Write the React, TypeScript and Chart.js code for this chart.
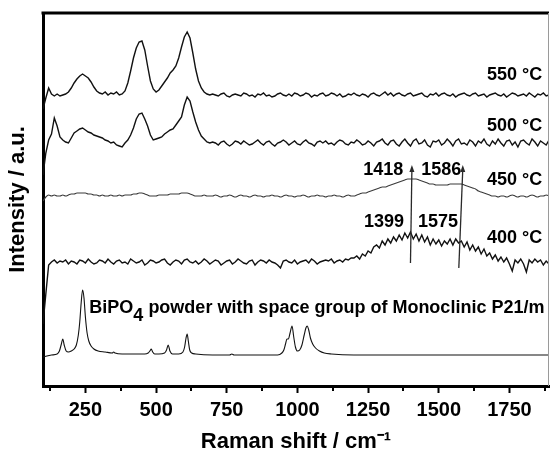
import React, { useEffect, useRef } from 'react';
import { Chart, registerables } from 'chart.js';

Chart.register(...registerables);

// Raman shift grid (cm-1) shared by the four annealed-sample spectra
const shift = [
  100, 110, 120, 130, 140, 150, 160, 170, 180, 190,
  200, 210, 220, 230, 240, 250, 260, 270, 280, 290,
  300, 310, 320, 330, 340, 350, 360, 370, 380, 390,
  400, 410, 420, 430, 440, 450, 460, 470, 480, 490,
  500, 510, 520, 530, 540, 550, 560, 570, 580, 590,
  600, 610, 620, 630, 640, 650, 660, 670, 680, 690,
  700, 710, 720, 730, 740, 750, 760, 770, 780, 790,
  800, 810, 820, 830, 840, 850, 860, 870, 880, 890,
  900, 910, 920, 930, 940, 950, 960, 970, 980, 990,
  1000, 1010, 1020, 1030, 1040, 1050, 1060, 1070, 1080, 1090,
  1100, 1110, 1120, 1130, 1140, 1150, 1160, 1170, 1180, 1190,
  1200, 1210, 1220, 1230, 1240, 1250, 1260, 1270, 1280, 1290,
  1300, 1310, 1320, 1330, 1340, 1350, 1360, 1370, 1380, 1390,
  1400, 1410, 1420, 1430, 1440, 1450, 1460, 1470, 1480, 1490,
  1500, 1510, 1520, 1530, 1540, 1550, 1560, 1570, 1580, 1590,
  1600, 1610, 1620, 1630, 1640, 1650, 1660, 1670, 1680, 1690,
  1700, 1710, 1720, 1730, 1740, 1750, 1760, 1770, 1780, 1790,
  1800, 1810, 1820, 1830, 1840, 1850, 1860, 1870, 1880, 1890,
];

// Relative intensities (a.u.) of each spectrum above its own baseline
const t550 = [
  -14, -3, 7, 1, -1, 1, -1, 0, 1, 3,
  7, 12, 16, 19, 21, 19, 17, 13, 8, 4,
  2, 1, 3, 0, 2, 1, 3, 0, 1, 4,
  12, 24, 37, 47, 53, 54, 45, 29, 14, 6,
  3, 5, 9, 13, 17, 22, 25, 29, 37, 48,
  58, 63, 57, 42, 26, 14, 7, 3, 1, 0,
  1, 0, -1, 1, 2, -1, -2, 0, 1, 0,
  -1, 2, 1, -1, 0, -2, 1, 0, 2, -1,
  0, -2, -1, 1, 2, 0, -1, 1, -1, 2,
  1, -1, 0, 2, 1, -2, 0, -1, 1, 2,
  -1, 0, 2, 1, -1, 1, -2, -1, 1, 0,
  2, 0, -1, 1, 0, -2, 1, 2, 0, -1,
  1, 3, 0, 2, -1, 1, 2, 0, -1, 1,
  2, -1, 0, 1, 2, -1, -2, 1, 0, 2,
  -1, 1, 2, 0, -1, 1, -2, 0, 1, 2,
  0, -1, 1, 2, -1, 0, 1, -2, 0, 1,
  2, 0, -1, 1, -2, 0, 2, 1, -1, 0,
  1, -1, 2, 0, -2, 1, 0, 2, -1, 0,
];

const t500 = [
  -32, -10, 3, 9, 25, 17, 6, 3, 1, 0,
  5, 10, 12, 14, 15, 13, 11, 10, 8, 7,
  6, 5, 3, 2, 0, 1, -2, -3, -4, 0,
  3, 8, 15, 24, 29, 30, 24, 17, 8, 3,
  4, 5, 6, 9, 11, 13, 14, 18, 22, 26,
  38, 46, 42, 31, 21, 13, 7, 4, 1, 0,
  1, 0, -2, 1, 2, -1, -3, -1, 2, 1,
  -1, 2, 0, -2, -1, 1, 3, 0, -2, 1,
  2, -1, -3, 0, 1, 3, 1, -2, 0, 2,
  -1, -2, 1, 3, 0, -1, -3, 1, 2, 0,
  2, -1, 0, -2, 1, 3, 2, -1, -2, 1,
  0, 3, 1, -2, -1, 2, 0, -3, 1, 2,
  4, 0, -2, 2, 3, -1, -3, 1, 4, 0,
  -3, 2, 4, -1, 0, 3, -2, -4, 2, 1,
  3, -2, 0, 4, 1, -3, 2, 4, -1, 0,
  -2, 3, 1, -3, 2, 0, 4, -1, -3, 2,
  -1, 4, 0, -3, 2, 3, -2, 1, -4, 2,
  3, 0, -2, 4, 1, -3, 2, 0, -2, 3,
];

const t450 = [
  -5, -1, 1, 0, 1, 0, 0, 1, 0, 1,
  2, 2, 3, 3, 3, 3, 2, 2, 1, 1,
  0, 1, 0, 0, 1, 0, 0, 1, 0, 1,
  1, 1, 2, 2, 3, 3, 2, 1, 0, 0,
  0, 1, 1, 1, 1, 2, 2, 2, 2, 3,
  3, 3, 2, 1, 0, 0, 0, 1, 0, 0,
  0, 1, 0, -1, 0, 0, 1, 0, -1, 0,
  1, 0, 0, -1, 0, 1, 0, 0, -1, 0,
  0, 1, 0, 0, -1, 0, 1, 0, 0, -1,
  0, 0, 1, 0, -1, 0, 0, 1, 0, 0,
  -1, 0, 0, 1, 0, 0, -1, 0, 1, 0,
  0, 1, 2, 3, 3, 4, 5, 6, 7, 8,
  9, 9, 10, 11, 12, 13, 14, 15, 16, 17,
  17, 17, 17, 16, 15, 14, 13, 12, 12, 11,
  11, 11, 11, 11, 12, 12, 12, 12, 12, 11,
  10, 9, 8, 7, 5, 4, 3, 2, 1, 0,
  0, -1, 0, 0, -1, 0, 1, 0, -1, 0,
  0, -1, 0, 1, 0, -1, 0, 0, 1, 0,
];

const t400 = [
  -62, -32, -3, 0, 2, -1, 1, 0, 2, -2,
  1, 0, -2, 2, 1, -1, 3, 0, -2, -1,
  2, 1, -1, 3, 0, -2, 1, 2, -1, 0,
  -2, 3, 1, -1, 0, 2, -3, -1, 2, 1,
  -1, 0, 2, 3, -1, -3, 0, 2, 1, -2,
  2, 3, 0, -1, 1, -2, 0, 3, 1, -2,
  0, 2, 1, -3, -1, 1, 2, -2, 0, 3,
  1, -1, -2, 1, 2, -3, 0, 2, 1, -1,
  2, 0, -1, -3, -6, 1, 2, 0, -1, 2,
  -2, 0, 1, 2, -1, 3, 1, -2, 0, 1,
  2, 1, 3, -1, 1, 2, 0, 3, 2, 4,
  4, 6, 3, 8, 6, 11, 9, 15, 17, 14,
  21, 17, 23, 19, 25, 21, 27, 22, 29, 24,
  30, 23, 28, 21, 27, 20, 25, 17, 23, 18,
  22, 16, 21, 18, 23, 17, 23, 19, 21, 15,
  20, 12, 17, 11, 15, 8, 13, 6, 9, 3,
  7, 1, 5, 0, 4, -2, -9, 2, -1, 3,
  -2, -10, 2, -1, 3, 0, 2, -3, 1, -2,
];

// BiPO4 reference powder spectrum (monoclinic P21/m)
const bipoShift = [
  100, 130, 150, 158, 165, 170, 175, 182, 190, 200,
  210, 218, 225, 230, 235, 240, 245, 250, 256, 262,
  270, 280, 295, 320, 345, 350, 355, 380, 420, 460,
  472, 478, 483, 488, 495, 510, 530, 537, 543, 549,
  558, 580, 595, 601, 606, 610, 614, 619, 626, 640,
  700, 760, 768, 776, 850, 930, 945, 952, 958, 963,
  968, 974, 981, 987, 993, 1000, 1008, 1016, 1024, 1030,
  1035, 1040, 1046, 1054, 1064, 1078, 1095, 1120, 1200, 1400,
  1600, 1890,
];
const bipoIntensity = [
  -2, 0, 1, 4, 11, 16, 10, 4, 3, 4,
  6, 10, 20, 33, 52, 65, 57, 38, 22, 14,
  9, 6, 4, 3, 2, 3, 2, 1, 1, 1,
  2, 4, 6, 3, 1, 1, 2, 5, 10, 4,
  1, 1, 3, 8, 17, 21, 14, 5, 2, 1,
  0, 0, 1, 0, 0, 0, 2, 5, 11, 16,
  16, 22, 29, 18, 8, 4, 5, 10, 20, 27,
  29, 25, 17, 11, 7, 4, 2, 1, 0, 0,
  0, 0,
];

const sampleLabels = ['550 °C', '500 °C', '450 °C', '400 °C'];
const baselines = [291, 243, 190, 124, 31];
const majorTicks = [250, 500, 750, 1000, 1250, 1500, 1750];
const minorTicks = [125, 375, 625, 875, 1125, 1375, 1625, 1875];
const peakTopShift = [1405, 1585];
const peakBottomShift = [1400, 1571];
const peakTopLabels = ['1418', '1586'];
const peakBottomLabels = ['1399', '1575'];

const FONT = '"Liberation Sans", Arial, Helvetica, sans-serif';

// layout of annotations (in data coordinates)
const sampleLabelPos = [
  { x: 1866, y: 311 },
  { x: 1866, y: 260 },
  { x: 1866, y: 206 },
  { x: 1866, y: 148 },
];
const topLabelPos = [{ x: 1304, y: 216 }, { x: 1509, y: 216 }];
const bottomLabelPos = [{ x: 1306, y: 164 }, { x: 1497, y: 164 }];
const arrowTopY = 221;
const arrowBottomY = [123, 118];
const bipoLabelPos = { x: 264, y: 78 };

const annotate = {
  id: 'annotate',
  afterDatasetsDraw(chart: any) {
    const { ctx, chartArea: a, scales } = chart;
    const xs = scales.x;
    const ys = scales.y;
    ctx.save();
    // top frame
    ctx.strokeStyle = '#000';
    ctx.lineWidth = 3;
    ctx.beginPath();
    ctx.moveTo(a.left - 1.5, a.top);
    ctx.lineTo(a.right, a.top);
    ctx.stroke();
    // right frame (thin)
    ctx.strokeStyle = '#9a9a9a';
    ctx.lineWidth = 1;
    ctx.beginPath();
    ctx.moveTo(a.right - 0.5, a.top);
    ctx.lineTo(a.right - 0.5, a.bottom);
    ctx.stroke();
    // minor ticks
    ctx.strokeStyle = '#000';
    ctx.lineWidth = 2;
    minorTicks.forEach((v) => {
      const px = Math.round(xs.getPixelForValue(v));
      ctx.beginPath();
      ctx.moveTo(px, a.bottom + 1);
      ctx.lineTo(px, a.bottom + 5);
      ctx.stroke();
    });
    // arrows
    ctx.strokeStyle = '#2a2a2a';
    ctx.fillStyle = '#2a2a2a';
    ctx.lineWidth = 1.3;
    peakTopShift.forEach((v, i) => {
      const x1 = xs.getPixelForValue(v);
      const y1 = ys.getPixelForValue(arrowTopY);
      const x2 = xs.getPixelForValue(peakBottomShift[i]);
      const y2 = ys.getPixelForValue(arrowBottomY[i]);
      ctx.beginPath();
      ctx.moveTo(x1, y1 + 4);
      ctx.lineTo(x2, y2);
      ctx.stroke();
      ctx.beginPath();
      ctx.moveTo(x1, y1);
      ctx.lineTo(x1 - 2.5, y1 + 7);
      ctx.lineTo(x1 + 2.5, y1 + 7);
      ctx.closePath();
      ctx.fill();
    });
    // text labels
    ctx.fillStyle = '#000';
    ctx.textBaseline = 'middle';
    ctx.font = `bold 18px ${FONT}`;
    ctx.textAlign = 'right';
    sampleLabels.forEach((t, i) => {
      ctx.fillText(t, xs.getPixelForValue(sampleLabelPos[i].x), ys.getPixelForValue(sampleLabelPos[i].y));
    });
    ctx.textAlign = 'center';
    peakTopLabels.forEach((t, i) => {
      ctx.fillText(t, xs.getPixelForValue(topLabelPos[i].x), ys.getPixelForValue(topLabelPos[i].y));
    });
    peakBottomLabels.forEach((t, i) => {
      ctx.fillText(t, xs.getPixelForValue(bottomLabelPos[i].x), ys.getPixelForValue(bottomLabelPos[i].y));
    });
    // BiPO4 label with subscript
    ctx.textAlign = 'left';
    let px = xs.getPixelForValue(bipoLabelPos.x);
    const py = ys.getPixelForValue(bipoLabelPos.y);
    ctx.fillText('BiPO', px, py);
    px += ctx.measureText('BiPO').width;
    ctx.fillText('4', px, py + 8);
    px += ctx.measureText('4').width;
    ctx.fillText(' powder with space group of Monoclinic P21/m', px, py);
    ctx.restore();
  },
};

export default function App() {
  const ref = useRef<HTMLCanvasElement>(null);

  useEffect(() => {
    if (!ref.current) return;
    const build = (vals: number[], base: number) => shift.map((s, i) => ({ x: s, y: base + vals[i] }));
    const bipo = bipoShift.map((s, i) => ({ x: s, y: baselines[4] + bipoIntensity[i] }));

    const chart = new Chart(ref.current, {
      type: 'line',
      data: {
        datasets: [
          { label: sampleLabels[0], data: build(t550, baselines[0]), borderColor: '#111', borderWidth: 1.4 },
          { label: sampleLabels[1], data: build(t500, baselines[1]), borderColor: '#111', borderWidth: 1.4 },
          { label: sampleLabels[2], data: build(t450, baselines[2]), borderColor: '#3a3a3a', borderWidth: 1.1, cubicInterpolationMode: 'monotone' },
          { label: sampleLabels[3], data: build(t400, baselines[3]), borderColor: '#111', borderWidth: 1.4 },
          { label: 'BiPO4', data: bipo, borderColor: '#111', borderWidth: 1.1, cubicInterpolationMode: 'monotone' },
        ],
      },
      options: {
        responsive: false,
        animation: false,
        layout: { padding: { top: 13, right: 1, left: 0, bottom: 0 } },
        elements: { point: { radius: 0 }, line: { tension: 0 } },
        plugins: { legend: { display: false }, tooltip: { enabled: false } },
        scales: {
          x: {
            type: 'linear',
            min: 100,
            max: 1890,
            afterFit: (s: any) => { s.height = 72; },
            border: { display: true, width: 3, color: '#000' },
            grid: {
              display: true,
              drawOnChartArea: false,
              drawTicks: true,
              tickLength: 7,
              tickWidth: 2,
              tickColor: (c: any) => (c.tick && majorTicks.includes(c.tick.value) ? '#000' : 'rgba(0,0,0,0)'),
            },
            ticks: {
              stepSize: 125,
              includeBounds: false,
              autoSkip: false,
              maxRotation: 0,
              padding: 5,
              color: '#000',
              font: { family: FONT, size: 20, weight: 'bold' },
              callback: (v: any) => (majorTicks.includes(Number(v)) ? String(v) : ''),
            },
            title: {
              display: true,
              text: 'Raman shift / cm⁻¹',
              color: '#000',
              font: { family: FONT, size: 22, weight: 'bold' },
              padding: { top: 0, bottom: 3 },
            },
          },
          y: {
            type: 'linear',
            min: 0,
            max: 373,
            afterFit: (s: any) => { s.width = 43; },
            border: { display: true, width: 3, color: '#000' },
            grid: { display: true, drawOnChartArea: false, drawTicks: false },
            ticks: { display: false },
            title: {
              display: true,
              text: 'Intensity / a.u.',
              color: '#000',
              font: { family: FONT, size: 22, weight: 'bold' },
              padding: { top: 5, bottom: 0 },
            },
          },
        },
      },
      plugins: [annotate],
    } as any);
    return () => chart.destroy();
  }, []);

  return (
    <div style={{ position: 'fixed', left: 0, top: 0, width: 550, height: 458, background: '#fff' }}>
      <canvas ref={ref} width={550} height={458} style={{ display: 'block' }} />
    </div>
  );
}
